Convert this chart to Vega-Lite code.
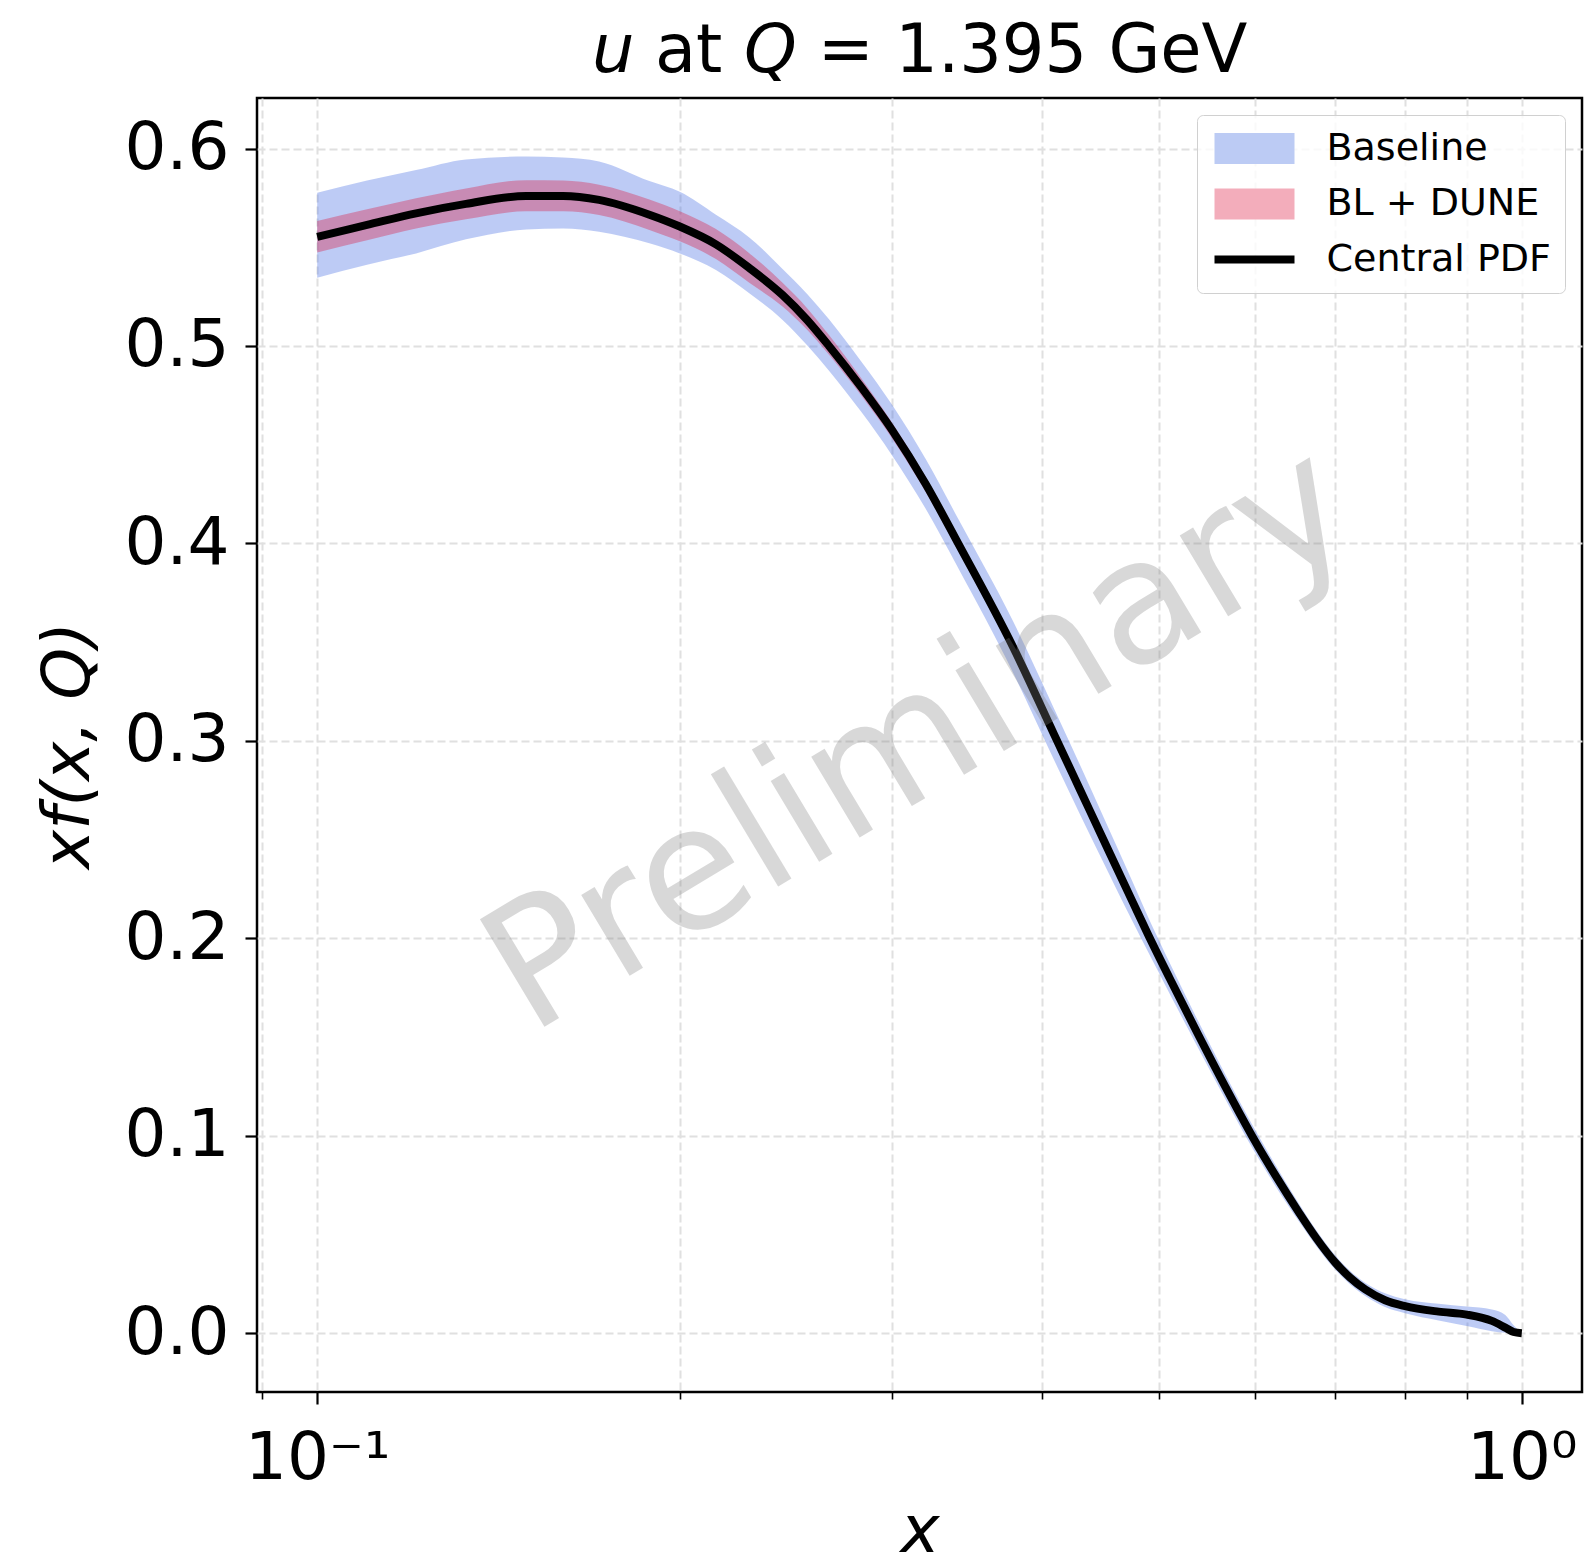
{
  "$schema": "https://vega.github.io/schema/vega-lite/v6.json",
  "width": 1325,
  "height": 1294,
  "autosize": {"type": "none"},
  "padding": {"left": 257, "top": 98, "right": 2, "bottom": 173},
  "background": "white",
  "title": {"text": "𝘶 at 𝘘 = 1.395 GeV", "font": "DejaVu Sans", "fontSize": 67, "fontWeight": "normal", "color": "black", "anchor": "middle", "offset": 12},
  "config": {
    "view": {"stroke": "black", "strokeWidth": 2.5},
    "axis": {"labelFont": "DejaVu Sans", "titleFont": "DejaVu Sans", "labelFontSize": 66, "titleFontSize": 66, "labelColor": "black", "titleColor": "black", "titleFontWeight": "normal", "domain": false, "tickColor": "black", "grid": true, "gridColor": "#e0e0e0", "gridDash": [8, 4], "gridWidth": 2},
    "legend": {
      "title": null, "orient": "top-right", "offset": 17, "padding": 13.5,
      "labelFont": "DejaVu Sans", "labelFontSize": 38, "labelColor": "black", "labelOffset": 28, "labelLimit": 500,
      "symbolSize": 6400, "symbolOffset": 0, "symbolOpacity": 1, "symbolStrokeWidth": 8,
      "rowPadding": 15.5, "clipHeight": 40,
      "fillColor": "rgba(255,255,255,0.8)", "strokeColor": "#d0d0d0", "cornerRadius": 6
    }
  },
  "datasets": {
    "bands": [
      {"band": "Baseline", "x": 0.1, "lo": 0.5346, "hi": 0.5776},
      {"band": "Baseline", "x": 0.11, "lo": 0.5412, "hi": 0.5838},
      {"band": "Baseline", "x": 0.1208, "lo": 0.5469, "hi": 0.5891},
      {"band": "Baseline", "x": 0.1329, "lo": 0.554, "hi": 0.5945},
      {"band": "Baseline", "x": 0.1491, "lo": 0.559, "hi": 0.596},
      {"band": "Baseline", "x": 0.16, "lo": 0.5595, "hi": 0.5955},
      {"band": "Baseline", "x": 0.1714, "lo": 0.5579, "hi": 0.5935},
      {"band": "Baseline", "x": 0.1887, "lo": 0.552, "hi": 0.5835},
      {"band": "Baseline", "x": 0.2, "lo": 0.5469, "hi": 0.5781},
      {"band": "Baseline", "x": 0.2143, "lo": 0.5385, "hi": 0.5665},
      {"band": "Baseline", "x": 0.2284, "lo": 0.5267, "hi": 0.555},
      {"band": "Baseline", "x": 0.2434, "lo": 0.5132, "hi": 0.539},
      {"band": "Baseline", "x": 0.255, "lo": 0.5005, "hi": 0.5265},
      {"band": "Baseline", "x": 0.266, "lo": 0.4875, "hi": 0.5135},
      {"band": "Baseline", "x": 0.283, "lo": 0.4665, "hi": 0.492},
      {"band": "Baseline", "x": 0.3, "lo": 0.4447, "hi": 0.4703},
      {"band": "Baseline", "x": 0.32, "lo": 0.4175, "hi": 0.4427},
      {"band": "Baseline", "x": 0.3405, "lo": 0.3875, "hi": 0.4125},
      {"band": "Baseline", "x": 0.378, "lo": 0.3348, "hi": 0.3608},
      {"band": "Baseline", "x": 0.409, "lo": 0.2903, "hi": 0.3163},
      {"band": "Baseline", "x": 0.43, "lo": 0.2625, "hi": 0.2875},
      {"band": "Baseline", "x": 0.45, "lo": 0.2378, "hi": 0.2608},
      {"band": "Baseline", "x": 0.4755, "lo": 0.2082, "hi": 0.2282},
      {"band": "Baseline", "x": 0.4897, "lo": 0.1929, "hi": 0.2105},
      {"band": "Baseline", "x": 0.51, "lo": 0.1721, "hi": 0.1877},
      {"band": "Baseline", "x": 0.5384, "lo": 0.1447, "hi": 0.1583},
      {"band": "Baseline", "x": 0.5675, "lo": 0.1185, "hi": 0.1309},
      {"band": "Baseline", "x": 0.5975, "lo": 0.0938, "hi": 0.1054},
      {"band": "Baseline", "x": 0.625, "lo": 0.0742, "hi": 0.0848},
      {"band": "Baseline", "x": 0.653, "lo": 0.0567, "hi": 0.0657},
      {"band": "Baseline", "x": 0.675, "lo": 0.0442, "hi": 0.0522},
      {"band": "Baseline", "x": 0.7, "lo": 0.0322, "hi": 0.0394},
      {"band": "Baseline", "x": 0.72, "lo": 0.0248, "hi": 0.0316},
      {"band": "Baseline", "x": 0.7416, "lo": 0.0188, "hi": 0.0254},
      {"band": "Baseline", "x": 0.77, "lo": 0.0132, "hi": 0.0202},
      {"band": "Baseline", "x": 0.8, "lo": 0.0101, "hi": 0.0172},
      {"band": "Baseline", "x": 0.853, "lo": 0.0064, "hi": 0.0149},
      {"band": "Baseline", "x": 0.9, "lo": 0.0036, "hi": 0.0135},
      {"band": "Baseline", "x": 0.9445, "lo": 0.001, "hi": 0.012},
      {"band": "Baseline", "x": 0.969, "lo": 0.0002, "hi": 0.0092},
      {"band": "Baseline", "x": 0.9845, "lo": 0.0, "hi": 0.004},
      {"band": "Baseline", "x": 1.0, "lo": 0.0, "hi": 0.0},
      {"band": "BL + DUNE", "x": 0.1, "lo": 0.5474, "hi": 0.5633},
      {"band": "BL + DUNE", "x": 0.11, "lo": 0.5535, "hi": 0.5692},
      {"band": "BL + DUNE", "x": 0.1208, "lo": 0.5595, "hi": 0.5748},
      {"band": "BL + DUNE", "x": 0.1329, "lo": 0.5642, "hi": 0.5798},
      {"band": "BL + DUNE", "x": 0.1491, "lo": 0.5682, "hi": 0.584},
      {"band": "BL + DUNE", "x": 0.16, "lo": 0.5682, "hi": 0.5838},
      {"band": "BL + DUNE", "x": 0.1714, "lo": 0.5663, "hi": 0.5817},
      {"band": "BL + DUNE", "x": 0.1887, "lo": 0.5588, "hi": 0.5742},
      {"band": "BL + DUNE", "x": 0.2, "lo": 0.553, "hi": 0.5683},
      {"band": "BL + DUNE", "x": 0.2143, "lo": 0.544, "hi": 0.5592},
      {"band": "BL + DUNE", "x": 0.2284, "lo": 0.532, "hi": 0.547},
      {"band": "BL + DUNE", "x": 0.2434, "lo": 0.52, "hi": 0.532},
      {"band": "BL + DUNE", "x": 0.255, "lo": 0.5083, "hi": 0.5193},
      {"band": "BL + DUNE", "x": 0.266, "lo": 0.4955, "hi": 0.5055},
      {"band": "BL + DUNE", "x": 0.283, "lo": 0.4748, "hi": 0.4835},
      {"band": "BL + DUNE", "x": 0.3, "lo": 0.4533, "hi": 0.4613},
      {"band": "BL + DUNE", "x": 0.32, "lo": 0.4261, "hi": 0.4337},
      {"band": "BL + DUNE", "x": 0.3405, "lo": 0.3962, "hi": 0.4036},
      {"band": "BL + DUNE", "x": 0.378, "lo": 0.344, "hi": 0.3512},
      {"band": "BL + DUNE", "x": 0.409, "lo": 0.2998, "hi": 0.3066},
      {"band": "BL + DUNE", "x": 0.43, "lo": 0.2718, "hi": 0.2782},
      {"band": "BL + DUNE", "x": 0.45, "lo": 0.2463, "hi": 0.2523},
      {"band": "BL + DUNE", "x": 0.4755, "lo": 0.2156, "hi": 0.2208},
      {"band": "BL + DUNE", "x": 0.4897, "lo": 0.1993, "hi": 0.2041},
      {"band": "BL + DUNE", "x": 0.51, "lo": 0.1777, "hi": 0.1821},
      {"band": "BL + DUNE", "x": 0.5384, "lo": 0.1495, "hi": 0.1535},
      {"band": "BL + DUNE", "x": 0.5675, "lo": 0.123, "hi": 0.1264},
      {"band": "BL + DUNE", "x": 0.5975, "lo": 0.098, "hi": 0.1012},
      {"band": "BL + DUNE", "x": 0.625, "lo": 0.0781, "hi": 0.0809},
      {"band": "BL + DUNE", "x": 0.653, "lo": 0.06, "hi": 0.0624},
      {"band": "BL + DUNE", "x": 0.675, "lo": 0.0471, "hi": 0.0493},
      {"band": "BL + DUNE", "x": 0.7, "lo": 0.0348, "hi": 0.0368},
      {"band": "BL + DUNE", "x": 0.72, "lo": 0.0272, "hi": 0.0292},
      {"band": "BL + DUNE", "x": 0.7416, "lo": 0.0211, "hi": 0.0231},
      {"band": "BL + DUNE", "x": 0.77, "lo": 0.0156, "hi": 0.0178},
      {"band": "BL + DUNE", "x": 0.8, "lo": 0.0126, "hi": 0.0148},
      {"band": "BL + DUNE", "x": 0.853, "lo": 0.0098, "hi": 0.012},
      {"band": "BL + DUNE", "x": 0.9, "lo": 0.0083, "hi": 0.0105},
      {"band": "BL + DUNE", "x": 0.9445, "lo": 0.0052, "hi": 0.0072},
      {"band": "BL + DUNE", "x": 0.969, "lo": 0.0019, "hi": 0.0037},
      {"band": "BL + DUNE", "x": 0.9845, "lo": 0.0, "hi": 0.0012},
      {"band": "BL + DUNE", "x": 1.0, "lo": 0.0, "hi": 0.0}
    ],
    "central": [
      {"band": "Central PDF", "x": 0.1, "y": 0.5553},
      {"band": "Central PDF", "x": 0.11, "y": 0.5613},
      {"band": "Central PDF", "x": 0.1208, "y": 0.5672},
      {"band": "Central PDF", "x": 0.1329, "y": 0.572},
      {"band": "Central PDF", "x": 0.1491, "y": 0.576},
      {"band": "Central PDF", "x": 0.16, "y": 0.576},
      {"band": "Central PDF", "x": 0.1714, "y": 0.574},
      {"band": "Central PDF", "x": 0.1887, "y": 0.5665},
      {"band": "Central PDF", "x": 0.2, "y": 0.5605},
      {"band": "Central PDF", "x": 0.2143, "y": 0.5515},
      {"band": "Central PDF", "x": 0.2284, "y": 0.5395},
      {"band": "Central PDF", "x": 0.2434, "y": 0.5258},
      {"band": "Central PDF", "x": 0.255, "y": 0.5133},
      {"band": "Central PDF", "x": 0.266, "y": 0.5},
      {"band": "Central PDF", "x": 0.283, "y": 0.479},
      {"band": "Central PDF", "x": 0.3, "y": 0.4575},
      {"band": "Central PDF", "x": 0.32, "y": 0.4301},
      {"band": "Central PDF", "x": 0.3405, "y": 0.4},
      {"band": "Central PDF", "x": 0.378, "y": 0.3478},
      {"band": "Central PDF", "x": 0.409, "y": 0.3033},
      {"band": "Central PDF", "x": 0.43, "y": 0.275},
      {"band": "Central PDF", "x": 0.45, "y": 0.2493},
      {"band": "Central PDF", "x": 0.4755, "y": 0.2182},
      {"band": "Central PDF", "x": 0.4897, "y": 0.2017},
      {"band": "Central PDF", "x": 0.51, "y": 0.1799},
      {"band": "Central PDF", "x": 0.5384, "y": 0.1515},
      {"band": "Central PDF", "x": 0.5675, "y": 0.1247},
      {"band": "Central PDF", "x": 0.5975, "y": 0.0996},
      {"band": "Central PDF", "x": 0.625, "y": 0.0795},
      {"band": "Central PDF", "x": 0.653, "y": 0.0612},
      {"band": "Central PDF", "x": 0.675, "y": 0.0482},
      {"band": "Central PDF", "x": 0.7, "y": 0.0358},
      {"band": "Central PDF", "x": 0.72, "y": 0.0282},
      {"band": "Central PDF", "x": 0.7416, "y": 0.0221},
      {"band": "Central PDF", "x": 0.77, "y": 0.0167},
      {"band": "Central PDF", "x": 0.8, "y": 0.0137},
      {"band": "Central PDF", "x": 0.853, "y": 0.0109},
      {"band": "Central PDF", "x": 0.9, "y": 0.0094},
      {"band": "Central PDF", "x": 0.9445, "y": 0.0062},
      {"band": "Central PDF", "x": 0.969, "y": 0.0028},
      {"band": "Central PDF", "x": 0.9845, "y": 0.0006},
      {"band": "Central PDF", "x": 1.0, "y": 0.0}
    ],
    "wm": [{"x": 0.3162, "y": 0.3, "text": "Preliminary"}]
  },
  "layer": [
    {
      "data": {"name": "bands"},
      "transform": [{"filter": "datum.band === 'Baseline'"}],
      "mark": {"type": "area", "interpolate": "monotone", "opacity": 0.35, "color": "#4169e1"},
      "encoding": {
        "x": {"field": "x", "type": "quantitative", "title": "x",
          "scale": {"type": "log", "domain": [0.08913, 1.122], "nice": false},
          "axis": {
            "values": [0.09, 0.1, 0.2, 0.3, 0.4, 0.5, 0.6, 0.7, 0.8, 0.9, 1],
            "labelExpr": "datum.value == 0.1 ? '10⁻¹' : (datum.value == 1 ? '10⁰' : '')",
            "labelOverlap": false, "labelFlush": false,
            "tickSize": {"condition": {"test": "datum.value == 0.1 || datum.value == 1", "value": 12}, "value": 7},
            "tickWidth": {"condition": {"test": "datum.value == 0.1 || datum.value == 1", "value": 2.2}, "value": 1.6},
            "labelPadding": 22, "titleFontStyle": "italic", "titlePadding": 8
          }},
        "y": {"field": "lo", "type": "quantitative", "title": "xf(x, Q)",
          "scale": {"domain": [-0.0298, 0.6256], "nice": false, "zero": false},
          "axis": {"values": [0, 0.1, 0.2, 0.3, 0.4, 0.5, 0.6], "format": ".1f", "tickSize": 12, "tickWidth": 2.2, "labelPadding": 16, "titleFontStyle": "italic", "titlePadding": 22}},
        "y2": {"field": "hi"}
      }
    },
    {
      "data": {"name": "bands"},
      "transform": [{"filter": "datum.band === 'BL + DUNE'"}],
      "mark": {"type": "area", "interpolate": "monotone", "opacity": 0.35, "color": "#dc143c"},
      "encoding": {
        "x": {"field": "x", "type": "quantitative", "title": "x"},
        "y": {"field": "lo", "type": "quantitative", "title": "xf(x, Q)"},
        "y2": {"field": "hi"}
      }
    },
    {
      "data": {"name": "central"},
      "mark": {"type": "line", "interpolate": "monotone", "strokeWidth": 8, "color": "#000000"},
      "encoding": {
        "x": {"field": "x", "type": "quantitative", "title": "x"},
        "y": {"field": "y", "type": "quantitative", "title": "xf(x, Q)"}
      }
    },
    {
      "data": {"name": "central"},
      "mark": {"type": "point", "opacity": 0, "filled": true, "strokeWidth": 8},
      "encoding": {
        "x": {"field": "x", "type": "quantitative", "title": "x"},
        "y": {"field": "y", "type": "quantitative", "title": "xf(x, Q)"},
        "fill": {"field": "band", "type": "nominal",
          "scale": {"domain": ["Baseline", "BL + DUNE", "Central PDF"], "range": ["#bccbf4", "#f3adbb", "transparent"]},
          "legend": {"title": null, "symbolOpacity": 1, "symbolSize": 6400, "labelLimit": 500}},
        "stroke": {"field": "band", "type": "nominal",
          "scale": {"domain": ["Baseline", "BL + DUNE", "Central PDF"], "range": ["transparent", "transparent", "#000000"]},
          "legend": {"title": null, "symbolOpacity": 1, "symbolSize": 6400, "labelLimit": 500}},
        "shape": {"field": "band", "type": "nominal",
          "scale": {"domain": ["Baseline", "BL + DUNE", "Central PDF"], "range": ["M-1,-0.39H1V0.39H-1Z", "M-1,-0.39H1V0.39H-1Z", "stroke"]},
          "legend": {"title": null, "symbolOpacity": 1, "symbolSize": 6400, "labelLimit": 500}}
      }
    },
    {
      "data": {"name": "wm"},
      "mark": {"type": "text", "font": "DejaVu Sans", "fontSize": 172, "angle": 329, "align": "center", "baseline": "middle", "opacity": 0.3, "color": "#808080"},
      "encoding": {
        "x": {"field": "x", "type": "quantitative", "title": "x"},
        "y": {"field": "y", "type": "quantitative", "title": "xf(x, Q)"},
        "text": {"field": "text"}
      }
    }
  ]
}
